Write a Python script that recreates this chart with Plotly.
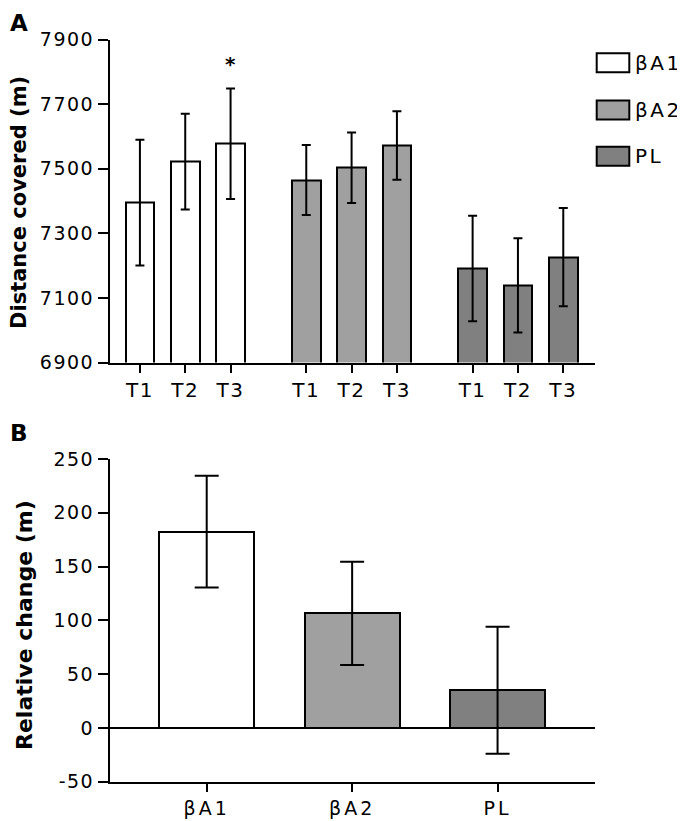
import plotly.graph_objects as go

# ---------------- data ----------------
groups = ["βA1", "βA2", "PL"]
timepoints = ["T1", "T2", "T3"]
distance_mean = {
    "βA1": [7395, 7522, 7577],
    "βA2": [7465, 7503, 7572],
    "PL": [7191, 7139, 7226],
}
distance_sd = {
    "βA1": [195, 148, 171],
    "βA2": [108, 109, 106],
    "PL": [163, 146, 152],
}
ticks_a = [6900, 7100, 7300, 7500, 7700, 7900]
change_mean = [182.5, 106.5, 35]
change_sd = [52, 48, 59]
ticks_b = [-50, 0, 50, 100, 150, 200, 250]
star_group, star_time, star_value = "βA1", "T3", 7828

colors = {"βA1": "#ffffff", "βA2": "#a0a0a0", "PL": "#808080"}

FONT = "DejaVu Sans, Arial, sans-serif"
OFF = 8                      # page body margin
W, H = 685 - OFF, 821 - OFF  # figure size
GAP = 0.67                   # gap between groups (in bar slots)


def px(x):   # reference pixel x -> paper fraction
    return (x - OFF) / W


def py(y):   # reference pixel y -> paper fraction
    return 1 - (y - OFF) / H


def spaced(s, ls):
    return f'<span style="letter-spacing:{ls}px">{s}</span>'


fig = go.Figure()

# ---------------- panel A ----------------
tickvals_a, ticktext_a = [], []
for g, grp in enumerate(groups):
    xs = [g * (len(timepoints) + GAP) + i for i in range(len(timepoints))]
    tickvals_a += xs
    ticktext_a += [spaced(t, 1.5) for t in timepoints]
    fig.add_trace(go.Bar(
        x=xs, y=distance_mean[grp], width=0.63,
        marker=dict(color=colors[grp], line=dict(color="black", width=2)),
        error_y=dict(type="data", array=distance_sd[grp], color="black",
                     thickness=2, width=4.5),
        name=grp, showlegend=False, xaxis="x", yaxis="y",
    ))

star_x = groups.index(star_group) * (len(timepoints) + GAP) + timepoints.index(star_time)

# ---------------- panel B ----------------
xb = list(range(len(groups)))
fig.add_trace(go.Bar(
    x=xb, y=change_mean, width=0.655,
    marker=dict(color=[colors[g] for g in groups], line=dict(color="black", width=2)),
    error_y=dict(type="data", array=change_sd, color="black", thickness=2, width=12),
    showlegend=False, xaxis="x2", yaxis="y2",
))

xdom = [px(110), px(595)]
ydom_a = [py(362.5), py(39.5)]
ydom_b = [py(781.7), py(459)]

axis_common = dict(showline=True, linecolor="black", linewidth=2, ticks="outside",
                   tickcolor="black", tickwidth=2, showgrid=False, zeroline=False,
                   automargin=False,
                   tickfont=dict(family=FONT, size=19, color="black"))

fig.update_layout(
    template="none",
    width=W, height=H, autosize=False,
    margin=dict(l=0, r=0, t=0, b=0, pad=0),
    paper_bgcolor="white", plot_bgcolor="white",
    font=dict(family=FONT, color="black"),
    bargap=0, showlegend=False,
    xaxis=dict(domain=xdom, anchor="y", range=[-0.66, 10.04],
               tickvals=tickvals_a, ticktext=ticktext_a, ticklen=8,
               **{**axis_common, "tickfont": dict(family=FONT, size=20, color="black")}),
    yaxis=dict(domain=ydom_a, anchor="x", range=[6900, 7900],
               tickvals=ticks_a, ticktext=[spaced(t, 1.5) for t in ticks_a], ticklen=10,
               **axis_common),
    xaxis2=dict(domain=xdom, anchor="y2", range=[-0.665, 2.67],
                tickvals=xb, ticktext=[spaced(g, 3) for g in groups], ticklen=8,
                **axis_common),
    yaxis2=dict(domain=ydom_b, anchor="x2", range=[-50, 250],
                tickvals=ticks_b, ticktext=[spaced(t, 1.5) for t in ticks_b], ticklen=10,
                **{**axis_common, "zeroline": True}, zerolinecolor="black", zerolinewidth=2),
)

annotations = [
    dict(text="<b>A</b>", x=px(8), y=py(8), xref="paper", yref="paper",
         xanchor="left", yanchor="top", showarrow=False, font=dict(size=23, family=FONT)),
    dict(text="<b>B</b>", x=px(8), y=py(418), xref="paper", yref="paper",
         xanchor="left", yanchor="top", showarrow=False, font=dict(size=23, family=FONT)),
    dict(text="<b>Distance covered (m)</b>", x=px(19), y=py(203), xref="paper",
         yref="paper", textangle=-90, showarrow=False, xanchor="center", yanchor="middle",
         font=dict(size=21, family=FONT)),
    dict(text="<b>Relative change (m)</b>", x=px(24), y=py(625), xref="paper",
         yref="paper", textangle=-90, showarrow=False, xanchor="center", yanchor="middle",
         font=dict(size=22, family=FONT)),
    dict(text="<b>*</b>", x=star_x, y=star_value, xref="x", yref="y", showarrow=False,
         xanchor="center", yanchor="middle", yshift=-1, font=dict(size=20, family=FONT)),
]

# legend drawn manually (wide boxes like the original)
shapes = []
row_centers = [62.8, 110, 156.3]
for grp, yc in zip(groups, row_centers):
    shapes.append(dict(type="rect", xref="paper", yref="paper",
                       x0=px(596.7), x1=px(629.3),
                       y0=py(yc + 9.5), y1=py(yc - 9.5),
                       fillcolor=colors[grp], line=dict(color="black", width=2)))
    annotations.append(dict(text=spaced(grp, 2.5), x=px(633), y=py(yc), xref="paper",
                            yref="paper", xanchor="left", yanchor="middle", showarrow=False,
                            font=dict(size=20, family=FONT)))

fig.update_layout(annotations=annotations, shapes=shapes)
fig.write_html("out.html")
